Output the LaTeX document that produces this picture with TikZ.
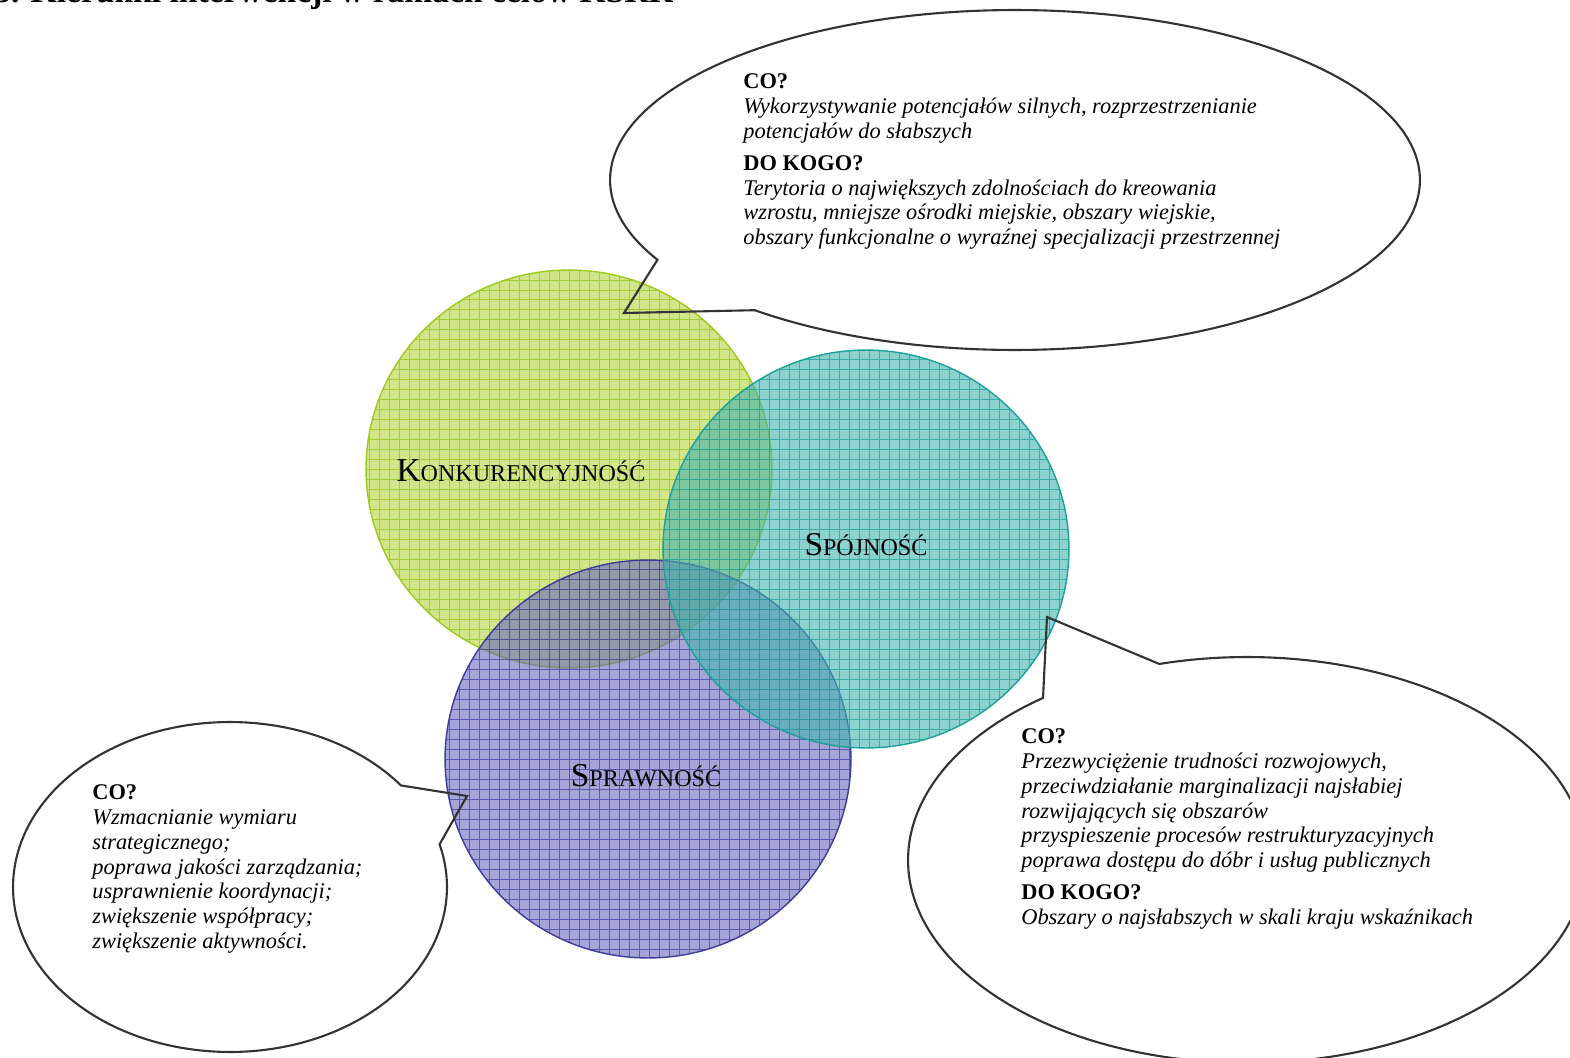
\documentclass[tikz,border=0pt]{standalone}
\usepackage{fontspec}
\setmainfont{Liberation Serif}
\usepackage{tikz}

\definecolor{konkfill}{RGB}{182,213,60}
\definecolor{konkgrid}{RGB}{140,195,10}
\definecolor{konkedge}{RGB}{155,203,28}
\definecolor{spojfill}{RGB}{68,180,175}
\definecolor{spojgrid}{RGB}{20,158,152}
\definecolor{spojedge}{RGB}{27,161,155}
\definecolor{sprawfill}{RGB}{105,105,190}
\definecolor{sprawgrid}{RGB}{60,60,160}
\definecolor{sprawedge}{RGB}{60,60,154}

\tikzset{
	callout/.style={draw=black!80,line width=1.2pt,line join=miter},
	cotext/.style={align=left,anchor=north west,inner sep=0pt,font=\fontsize{12.75}{14.2}\selectfont},
	ringname/.style={inner sep=0pt},
}
\newcommand{\fakesc}[2]{{\fontsize{19}{19}\selectfont #1}{\fontsize{13.7}{13.7}\selectfont #2}}

\begin{document}
\begin{tikzpicture}[x=0.02cm,y=-0.02cm]
	\path[use as bounding box,fill=white] (0,0) rectangle (1570,1058);
	
	\node[anchor=base west,inner sep=0pt,font=\fontsize{19.1}{19.1}\selectfont\bfseries] (title) at (-6,3) {3. Kierunki interwencji w ramach celów KSRR};
	
	% the three rings
	\foreach \cx/\cy/\col in {569/469/konk, 648/759/spraw, 866/549/spoj}{
		\begin{scope}
			\clip (\cx,\cy) ellipse [x radius=4.06cm,y radius=3.98cm];
			\fill[fill=\col fill,fill opacity=0.6] ({\cx-210},{\cy-210}) rectangle ({\cx+210},{\cy+210});
			\draw[draw=\col grid,draw opacity=0.7,line width=0.5pt,step=0.2cm] ({\cx-210},{\cy-210}) grid ({\cx+210},{\cy+210});
		\end{scope}
		\draw[draw=\col edge,line width=0.8pt] (\cx,\cy) ellipse [x radius=4.06cm,y radius=3.98cm];
	}
	
	\node[ringname] (konk) at (521,471) {\fakesc{K}{ONKURENCYJNOŚĆ}};
	\node[ringname] (spoj) at (866,545) {\fakesc{S}{PÓJNOŚĆ}};
	\node[ringname] (spraw) at (646,776) {\fakesc{S}{PRAWNOŚĆ}};
	
	% callouts
	\coordinate (topc) at (1015,180);	\coordinate (toptip) at (624,313);
	\coordinate (rightc) at (1247,860);	\coordinate (righttip) at (1047,617);
	\coordinate (leftc) at (230,887);	\coordinate (lefttip) at (467,796);
	
	\draw[callout] (topc) ++(230:8.1cm and 3.4cm) arc[start angle=230,end angle=568,x radius=8.1cm,y radius=3.4cm] -- (toptip) -- cycle;
	\draw[callout] (rightc) ++(127:6.78cm and 4.06cm) arc[start angle=127,end angle=465,x radius=6.78cm,y radius=4.06cm] -- (righttip) -- cycle;
	\draw[callout] (leftc) ++(38:4.34cm and 3.3cm) arc[start angle=38,end angle=375,x radius=4.34cm,y radius=3.3cm] -- (lefttip) -- cycle;
	
	\node[cotext] (toptext) at (743,73) {\textbf{CO?} \\ \textit{Wykorzystywanie potencjałów silnych, rozprzestrzenianie} \\ \textit{potencjałów do słabszych} \\[4pt] \textbf{DO KOGO?} \\ \textit{Terytoria o największych zdolnościach do kreowania} \\ \textit{wzrostu, mniejsze ośrodki miejskie, obszary wiejskie,} \\ \textit{obszary funkcjonalne o wyraźnej specjalizacji przestrzennej}};
	
	\node[cotext] (righttext) at (1021,728) {\textbf{CO?} \\ \textit{Przezwyciężenie trudności rozwojowych,} \\ \textit{przeciwdziałanie marginalizacji najsłabiej} \\ \textit{rozwijających się obszarów} \\ \textit{przyspieszenie procesów restrukturyzacyjnych} \\ \textit{poprawa dostępu do dóbr i usług publicznych} \\[4pt] \textbf{DO KOGO?} \\ \textit{Obszary o najsłabszych w skali kraju wskaźnikach}};
	
	\node[cotext] (lefttext) at (92,784) {\textbf{CO?} \\ \textit{Wzmacnianie wymiaru} \\ \textit{strategicznego;} \\ \textit{poprawa jakości zarządzania;} \\ \textit{usprawnienie koordynacji;} \\ \textit{zwiększenie współpracy;} \\ \textit{zwiększenie aktywności.}};
\end{tikzpicture}
\end{document}
